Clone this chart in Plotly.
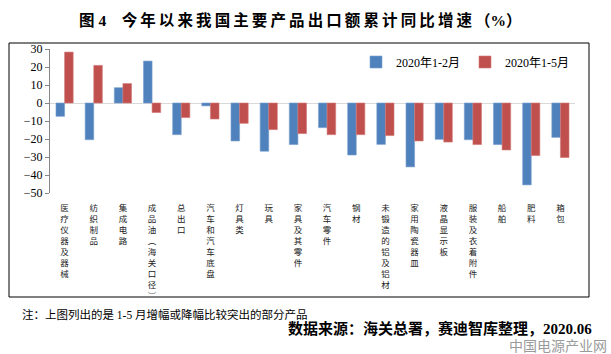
import plotly.graph_objects as go

categories = ["医疗仪器及器械", "纺织制品", "集成电路", "成品油(海关口径)", "总出口",
              "汽车和汽车底盘", "灯具类", "玩具", "家具及其零件", "汽车零件", "钢材",
              "未锻造的铝及铝材", "家用陶瓷器皿", "液晶显示板", "服装及衣着附件",
              "船舶", "肥料", "箱包"]
series_names = ["2020年1-2月", "2020年1-5月"]
growth_jan_feb = [-7.4, -20.4, 8.5, 23.3, -17.6, -1.6, -21.1, -26.8, -23.1, -13.7,
                  -28.9, -23.0, -35.5, -20.2, -20.4, -23.1, -45.5, -19.1]
growth_jan_may = [28.3, 20.9, 10.8, -5.3, -8.1, -8.9, -11.3, -14.8, -17.0, -17.6,
                  -17.6, -18.1, -21.1, -21.7, -23.1, -26.1, -29.2, -30.3]
y_ticks = [30, 20, 10, 0, -10, -20, -30, -40, -50]

W, H = 611, 354
L, R, T, B = 50, 575, 49, 193
pw, ph = R - L, B - T


def px(x):
    return (x - L) / pw


def py(y):
    return (B - y) / ph


FONT = "Liberation Serif, Noto Sans CJK SC"
BLUE = "#4F81BD"
RED = "#C0504D"
THIN = "\u2009"


def vertical(label):
    return "<br>".join({"(": "︵", ")": "︶"}.get(c, c) for c in label)


fig = go.Figure()
fig.add_trace(go.Bar(x=categories, y=growth_jan_feb, name=series_names[0],
                     marker=dict(color=BLUE, line=dict(color="#7BA0CD", width=0.6))))
fig.add_trace(go.Bar(x=categories, y=growth_jan_may, name=series_names[1],
                     marker=dict(color=RED, line=dict(color="#D07B79", width=0.6))))

title_text = "图 4　" + THIN.join("今年以来我国主要产品出口额累计同比增速") + THIN + "（%）"

annotations = [
    dict(x=px(77), y=py(20), xref="paper", yref="paper", xanchor="left", yanchor="middle",
         text="<b>" + title_text + "</b>", showarrow=False,
         font=dict(family=FONT, size=15.5, color="#000")),
    dict(x=px(20), y=py(314), xref="paper", yref="paper", xanchor="left", yanchor="middle",
         text="注：上图列出的是 1-5 月增幅或降幅比较突出的部分产品", showarrow=False,
         font=dict(family=FONT, size=11.5, color="#000")),
    dict(x=px(594), y=py(328), xref="paper", yref="paper", xanchor="right", yanchor="middle",
         text="<b>数据来源：海关总署，赛迪智库整理，2020.06</b>", showarrow=False,
         font=dict(family=FONT, size=15, color="#000")),
    dict(x=px(609), y=py(345), xref="paper", yref="paper", xanchor="right", yanchor="middle",
         text="中国电源产业网", showarrow=False,
         font=dict(family="Noto Sans CJK SC", size=14, color="#9a9a9a")),
]

shapes = [dict(type="rect", xref="paper", yref="paper", x0=px(9), x1=px(589),
               y0=py(297), y1=py(43), line=dict(color="#000", width=1), layer="below")]

fig.update_layout(
    width=W, height=H,
    margin=dict(l=L, r=W - R, t=T, b=H - B, pad=0),
    paper_bgcolor="white", plot_bgcolor="white",
    barmode="group", bargap=0.41, bargroupgap=0,
    showlegend=True,
    legend=dict(orientation="h", x=px(356), y=py(62), xanchor="left", yanchor="middle",
                font=dict(family=FONT, size=12, color="#000"), bgcolor="rgba(0,0,0,0)",
                itemwidth=30, traceorder="normal"),
    xaxis=dict(tickmode="array", tickvals=categories,
               ticktext=[vertical(c) for c in categories],
               tickfont=dict(family="Noto Sans CJK SC", size=8.5, color="#222"),
               ticklabelstandoff=8, ticks="", showline=False, showgrid=False,
               zeroline=False, tickangle=0),
    yaxis=dict(range=[-50, 30], tickvals=y_ticks, showgrid=False, showline=True,
               linecolor="#868686", linewidth=1, ticks="outside", ticklen=4,
               tickcolor="#868686", tickfont=dict(family=FONT, size=12, color="#000"),
               zeroline=True, zerolinecolor="#D9D9D9", zerolinewidth=1),
    annotations=annotations,
    shapes=shapes,
)

fig.write_html("out.html")
